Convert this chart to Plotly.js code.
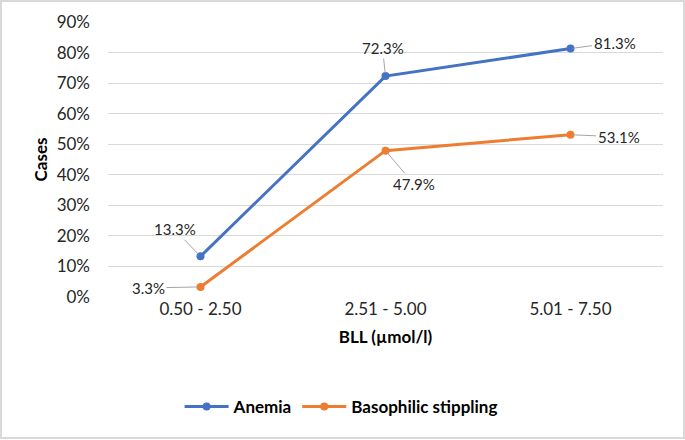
<!DOCTYPE html>
<html>
<head>
<meta charset="utf-8">
<script src="https://cdn.plot.ly/plotly-3.0.1.min.js"></script>
<style>
  html, body { margin: 0; padding: 0; background: #fff; }
  #wrap { position: relative; width: 685px; height: 440px; }
  #chart { width: 685px; height: 440px; }
  #frame { position: absolute; left: 0; top: 0; width: 681px; height: 435px; border: 2px solid #d9d9d9; pointer-events: none; }
</style>
</head>
<body>
<div id="wrap"><div id="chart"></div><div id="frame"></div></div>
<script>
const categories = ["0.50 - 2.50", "2.51 - 5.00", "5.01 - 7.50"];
const anemia = [0.133, 0.723, 0.813];
const basophilic = [0.033, 0.479, 0.531];
const seriesNames = ["Anemia", "Basophilic stippling"];
const yTickVals = [0, 0.1, 0.2, 0.3, 0.4, 0.5, 0.6, 0.7, 0.8, 0.9];

const FONT = "Lato, 'Open Sans', sans-serif";
const blue = "#4472C4", orange = "#ED7D31";

const traces = [
  { x: categories, y: anemia, name: seriesNames[0], type: "scatter", mode: "lines+markers",
    line: { color: blue, width: 3 }, marker: { color: blue, size: 8 } },
  { x: categories, y: basophilic, name: seriesNames[1], type: "scatter", mode: "lines+markers",
    line: { color: orange, width: 3 }, marker: { color: orange, size: 8 } }
];

function lbl(x, y, ax, ay) {
  return { x: x, y: y, xref: "x", yref: "y", text: (y * 100).toFixed(1) + "%",
    showarrow: true, arrowhead: 0, arrowwidth: 1, arrowcolor: "#a6a6a6",
    ax: ax, ay: ay, standoff: 3, font: { family: FONT, size: 15, color: "#262626" } };
}
const offs = [[-26, -27], [-3, -28], [44, -6]];
const offs2 = [[-52, 1], [28, 33], [48, 2]];
const annotations = [];
categories.forEach((c, i) => {
  annotations.push(lbl(c, anemia[i], offs[i][0], offs[i][1]));
  annotations.push(lbl(c, basophilic[i], offs2[i][0], offs2[i][1]));
});

const layout = {
  width: 685, height: 440,
  margin: { l: 108, r: 22, t: 22, b: 143 },
  paper_bgcolor: "#fff", plot_bgcolor: "#fff",
  font: { family: FONT, color: "#262626" },
  showlegend: true,
  legend: { orientation: "h", x: 0.42, xanchor: "center", y: -0.4, yanchor: "middle",
    font: { family: FONT, size: 17, color: "#000", weight: "bold" }, itemwidth: 44, tracegroupgap: 0 },
  xaxis: {
    type: "category", range: [-0.5, 2.5], showgrid: false, zeroline: false, showline: false,
    ticks: "", tickfont: { family: FONT, size: 17, color: "#262626" },
    title: { text: "BLL (µmol/l)", font: { family: FONT, size: 17, color: "#000", weight: "bold" }, standoff: 13 }
  },
  yaxis: {
    range: [0, 0.9], tickvals: yTickVals, tickformat: ".0%", showgrid: true, gridcolor: "#d9d9d9", gridwidth: 1,
    zeroline: false, showline: false, ticks: "", ticklabelstandoff: 17,
    tickfont: { family: FONT, size: 17, color: "#262626" },
    title: { text: "Cases", font: { family: FONT, size: 17, color: "#000", weight: "bold" }, standoff: 4 }
  },
  annotations: annotations
};

Plotly.newPlot("chart", traces, layout, { displayModeBar: false, responsive: false });
</script>
</body>
</html>
